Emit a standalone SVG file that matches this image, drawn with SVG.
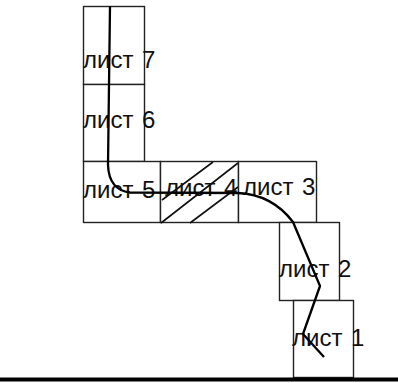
<svg xmlns="http://www.w3.org/2000/svg" width="398" height="383" viewBox="0 0 398 383">
<style>
.b{fill:#fff;stroke:#222;stroke-width:1.4}
.t{font-family:"Liberation Sans",Arial,sans-serif;font-size:24px;fill:#111;word-spacing:2px}
.h{stroke:#111;stroke-width:1.6;fill:none}
.c{stroke:#000;stroke-width:2.3;fill:none;stroke-linejoin:round}
</style>
<g id="node7"><rect class="b" x="83.500" y="6.500" width="61" height="78"/><text class="t" x="83" y="68">лист 7</text></g>
<g id="node6"><rect class="b" x="83.500" y="84.500" width="61" height="77"/><text class="t" x="83" y="128">лист 6</text></g>
<g id="node5"><rect class="b" x="83.500" y="161.500" width="77" height="61"/><text class="t" x="83" y="198">лист 5</text></g>
<g id="node4"><rect class="b" x="160.500" y="161.500" width="78" height="61"/>
<path class="h" d="M162 200L213 162M161 223L238 163M190 223L238 187"/><text class="t" x="165" y="196">лист 4</text></g>
<g id="node3"><rect class="b" x="238.500" y="161.500" width="78" height="61"/><text class="t" x="243" y="195">лист 3</text></g>
<g id="node2"><rect class="b" x="279.500" y="222.500" width="60" height="78"/><text class="t" x="279" y="277">лист 2</text></g>
<g id="node1"><rect class="b" x="293.500" y="300.500" width="60" height="77"/><text class="t" x="292" y="346">лист 1</text></g>
<g id="ground"><rect x="0" y="377.500" width="398" height="4" fill="#000"/></g>
<g id="connectors"><path class="c" d="M110 6L109 85L108 165Q109 190 130 192.500L238 193C262 194 280 205 293 222L320 286L303 334L324 357"/></g>
</svg>
